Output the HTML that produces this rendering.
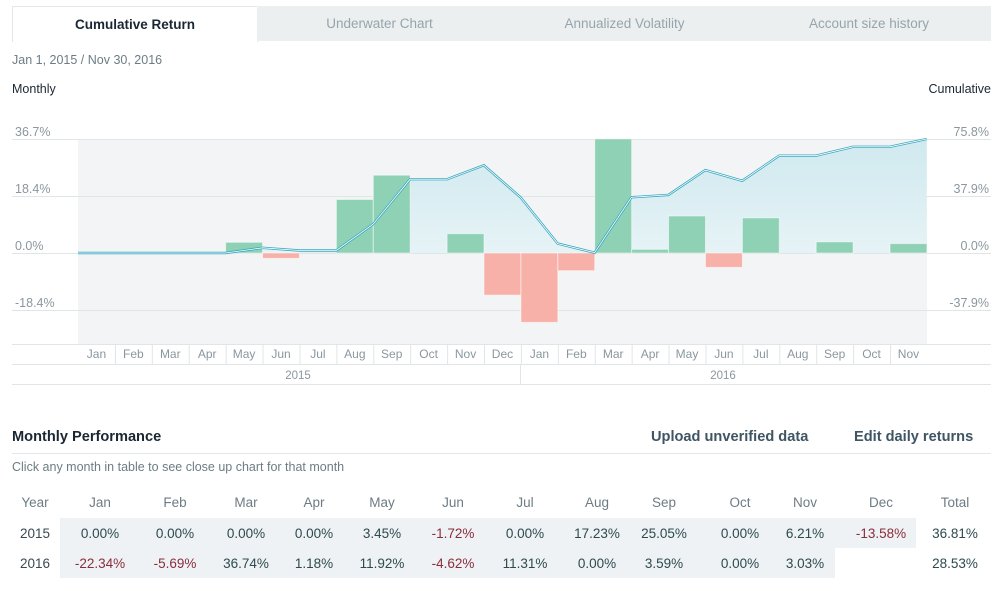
<!DOCTYPE html>
<html><head><meta charset="utf-8"><style>
body{margin:0;width:1001px;height:591px;background:#fff;font-family:"Liberation Sans",sans-serif;position:relative;overflow:hidden}
.a{position:absolute;white-space:nowrap}
.tab{position:absolute;top:6px;height:35px;line-height:35px;text-align:center;font-size:13.5px;color:#97a4ab;background:#eceff0}
.c{position:absolute;transform:translateX(-50%);font-size:13.5px;white-space:nowrap}
.pos{color:#2c4a4f}.neg{color:#8a2d3c}.hd{color:#6d7c84}
</style></head><body>
<div class="tab" style="left:12px;width:244px;background:#fff;border:1px solid #e3e7e9;border-bottom:none;color:#1a2733;font-weight:bold;height:35px">Cumulative Return</div>
<div class="tab" style="left:257px;width:245px">Underwater Chart</div>
<div class="tab" style="left:502px;width:245px">Annualized Volatility</div>
<div class="tab" style="left:747px;width:244px">Account size history</div>
<div class="a" style="left:12px;top:53px;font-size:12.5px;color:#6d7c84">Jan 1, 2015 / Nov 30, 2016</div>
<div class="a" style="left:12px;top:82px;font-size:12.5px;color:#1a2733">Monthly</div>
<div class="a" style="right:10px;top:82px;font-size:12.5px;color:#1a2733">Cumulative</div>
<svg class="a" style="left:0;top:0" width="1001" height="400" font-family="Liberation Sans,sans-serif" font-size="12.5">
<defs><linearGradient id="g" x1="0" y1="0" x2="0" y2="1"><stop offset="0" stop-color="#cfe9ef"/><stop offset="1" stop-color="#e6f3f6"/></linearGradient></defs>
<rect x="78" y="139" width="849" height="205" fill="#f3f4f6"/>
<g stroke="#e0e6e6" stroke-width="1">
<line x1="12" y1="139.5" x2="991" y2="139.5"/><line x1="12" y1="196.5" x2="991" y2="196.5"/>
<line x1="12" y1="253.5" x2="991" y2="253.5"/><line x1="12" y1="310.5" x2="991" y2="310.5"/>
<line x1="12" y1="344.5" x2="991" y2="344.5"/><line x1="12" y1="364.5" x2="991" y2="364.5"/>
<line x1="12" y1="384.5" x2="991" y2="384.5"/><line x1="520.5" y1="364" x2="520.5" y2="384"/>
</g>
<polygon fill="url(#g)" points="78,253 114.9,253 151.8,253 188.7,253 225.6,253 262.5,247.8 299.4,250.5 336.3,250.5 373.2,224.1 410.1,179.2 447,179.2 483.9,165.3 520.8,197.6 557.7,243.6 594.6,252.7 631.5,197.3 668.4,194.9 705.3,170.1 742.2,180.8 779.1,155.7 816,155.7 852.9,146.8 889.8,146.8 926.7,139 926.7,253"/>
<g id="bars" stroke="#fff" stroke-opacity="0.5" stroke-width="1"></g>
<polyline fill="none" stroke="#3aa9c0" stroke-width="2.4" points="78,253 114.9,253 151.8,253 188.7,253 225.6,253 262.5,247.8 299.4,250.5 336.3,250.5 373.2,224.1 410.1,179.2 447,179.2 483.9,165.3 520.8,197.6 557.7,243.6 594.6,252.7 631.5,197.3 668.4,194.9 705.3,170.1 742.2,180.8 779.1,155.7 816,155.7 852.9,146.8 889.8,146.8 926.7,139"/>
<polyline fill="none" stroke="#fff" stroke-width="0.8" points="78,253 114.9,253 151.8,253 188.7,253 225.6,253 262.5,247.8 299.4,250.5 336.3,250.5 373.2,224.1 410.1,179.2 447,179.2 483.9,165.3 520.8,197.6 557.7,243.6 594.6,252.7 631.5,197.3 668.4,194.9 705.3,170.1 742.2,180.8 779.1,155.7 816,155.7 852.9,146.8 889.8,146.8 926.7,139"/>
<g fill="#8a979e">
<text x="15" y="136">36.7%</text><text x="15" y="193">18.4%</text><text x="15" y="250">0.0%</text><text x="15" y="307">-18.4%</text>
<text x="989" y="136" text-anchor="end">75.8%</text><text x="989" y="193" text-anchor="end">37.9%</text><text x="989" y="250" text-anchor="end">0.0%</text><text x="989" y="307" text-anchor="end">-37.9%</text>
</g>
<g id="mon" fill="#8a979e" font-size="12" text-anchor="middle"></g>
<g id="sep" stroke="#e0e6e6"></g>
<text x="298" y="379" fill="#8a979e" font-size="11.5" text-anchor="middle">2015</text>
<text x="723" y="379" fill="#8a979e" font-size="11.5" text-anchor="middle">2016</text>
</svg>
<div class="a" style="left:12px;top:429px;font-size:14.6px;font-weight:bold;color:#1a2733">Monthly Performance</div>
<div class="a" style="left:651px;top:429px;font-size:14.6px;font-weight:bold;color:#3f5563">Upload unverified data</div>
<div class="a" style="left:854px;top:429px;font-size:14.6px;font-weight:bold;color:#3f5563">Edit daily returns</div>
<div class="a" style="left:12px;top:453px;width:979px;height:1px;background:#e3e7e9"></div>
<div class="a" style="left:12px;top:460px;font-size:12.5px;color:#6d7c84">Click any month in table to see close up chart for that month</div>
<div class="a" style="left:60px;top:518px;width:856px;height:30px;background:#eff2f4"></div>
<div class="a" style="left:60px;top:548px;width:775px;height:30px;background:#eff2f4"></div>
<div id="tbl"></div>
<script>
var v=[0,0,0,0,3.45,-1.72,0,17.23,25.05,0,6.21,-13.58,-22.34,-5.69,36.74,1.18,11.92,-4.62,11.31,0,3.59,0,3.03];
var ns="http://www.w3.org/2000/svg",b=document.getElementById("bars"),m=document.getElementById("mon"),s=document.getElementById("sep");
var M=["Jan","Feb","Mar","Apr","May","Jun","Jul","Aug","Sep","Oct","Nov","Dec"],w=36.91;
v.forEach(function(x,i){var x0=78+i*w;
 if(x){var r=document.createElementNS(ns,"rect"),h=Math.abs(x)*3.106;r.setAttribute("x",x0);r.setAttribute("width",w);r.setAttribute("y",x>0?253-h:253);r.setAttribute("height",h);r.setAttribute("fill",x>0?"#8fd1b5":"#f8b1a8");b.appendChild(r);}
 var t=document.createElementNS(ns,"text");t.setAttribute("x",x0+w/2);t.setAttribute("y",358);t.textContent=M[i%12];m.appendChild(t);
 if(i>0){var l=document.createElementNS(ns,"line");l.setAttribute("x1",x0+.5);l.setAttribute("x2",x0+.5);l.setAttribute("y1",344);l.setAttribute("y2",364);s.appendChild(l);}
});
var cx=[35,100,175,246,314,382,453,525,597,664,740,805,881,955];
var rows=[["Year","Jan","Feb","Mar","Apr","May","Jun","Jul","Aug","Sep","Oct","Nov","Dec","Total"],
["2015","0.00%","0.00%","0.00%","0.00%","3.45%","-1.72%","0.00%","17.23%","25.05%","0.00%","6.21%","-13.58%","36.81%"],
["2016","-22.34%","-5.69%","36.74%","1.18%","11.92%","-4.62%","11.31%","0.00%","3.59%","0.00%","3.03%","","28.53%"]];
var ys=[495,526,556],h="";
rows.forEach(function(r,ri){r.forEach(function(t,ci){var c=ri==0?"hd":(ci==0?"pos":(t[0]=="-"?"neg":"pos"));if(ri>0&&ci==0)c="hd\" style=\"color:#3a4a52;left:"+cx[ci]+"px;top:"+ys[ri]+"px";
 h+='<div class="c '+c+'" style="left:'+cx[ci]+'px;top:'+ys[ri]+'px">'+t+'</div>';});});
document.getElementById("tbl").innerHTML=h;
</script>
</body></html>
